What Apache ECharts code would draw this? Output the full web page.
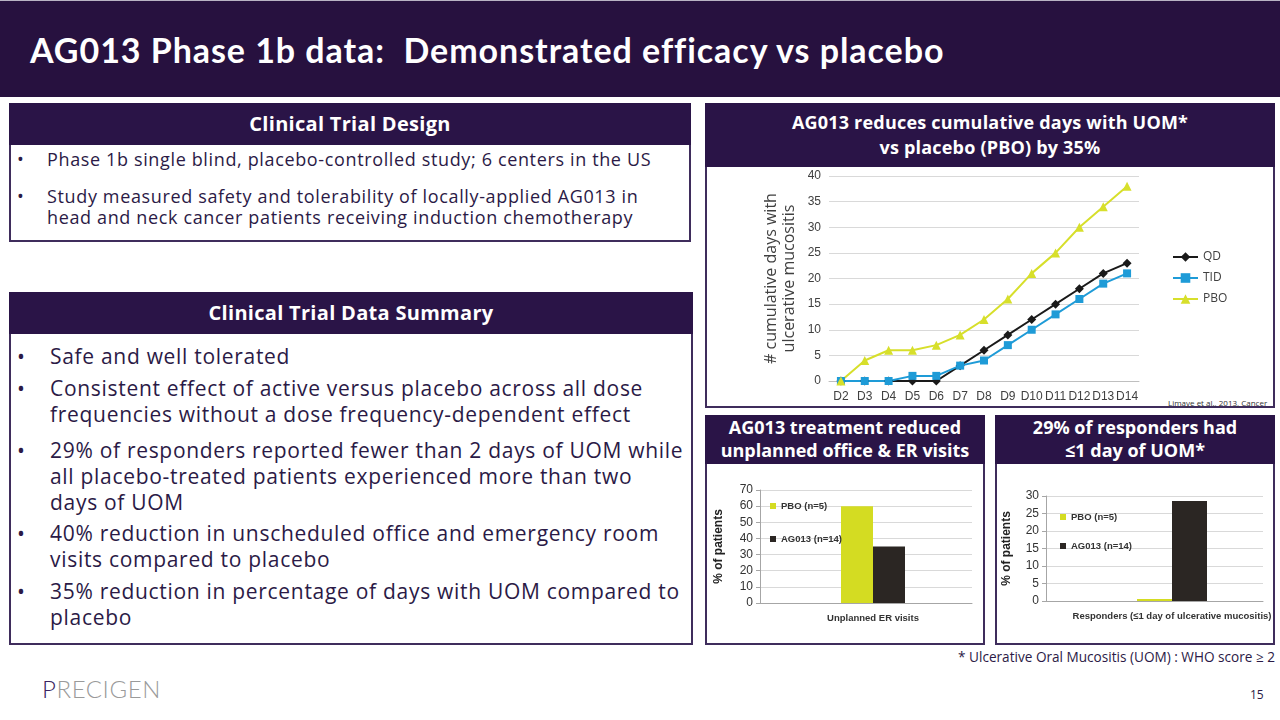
<!DOCTYPE html>
<html>
<head>
<meta charset="utf-8">
<script src="https://cdn.jsdelivr.net/npm/echarts@6/dist/echarts.min.js"></script>
<style>
  html, body { margin: 0; padding: 0; }
  body { width: 1280px; height: 720px; overflow: hidden; background: #ffffff; position: relative;
         font-family: 'Open Sans', 'DejaVu Sans', sans-serif; color: #2b1a46; }
  .abs { position: absolute; }
  .bar { background: #27113f; }
  .hdr { background: #2a1447; color: #ffffff; font-weight: bold; text-align: center; white-space: nowrap; }
  .bodybox { border: 2px solid #3f2d5c; border-top: none; box-sizing: border-box; background: #fff; }
  .ln { position: absolute; white-space: nowrap; }
  .bul { position: absolute; letter-spacing: 0; }
</style>
</head>
<body>
<div class="abs" style="left:0;top:0;width:1280px;height:1px;background:#b9b3c4"></div>
<div class="abs bar" style="left:0;top:1px;width:1280px;height:96px"></div>
<div class="abs" style="left:30px;top:27px;font-family:Lato,'Open Sans',sans-serif;font-weight:bold;font-size:34px;line-height:46px;letter-spacing:0.95px;color:#fff;white-space:pre">AG013 Phase 1b data:  Demonstrated efficacy vs placebo</div>

<!-- Box 1 -->
<div class="abs hdr" style="left:9px;top:103px;width:682px;height:42px;font-size:20px;line-height:42px;letter-spacing:0.3px">Clinical Trial Design</div>
<div class="abs bodybox" style="left:9px;top:145px;width:682px;height:97px"></div>
<div style="font-size:18px;line-height:21px;letter-spacing:0.64px">
  <span class="bul" style="left:17px;top:149px">•</span>
  <span class="ln" style="left:47px;top:149px">Phase 1b single blind, placebo-controlled study; 6 centers in the US</span>
  <span class="bul" style="left:17px;top:186px">•</span>
  <span class="ln" style="left:47px;top:186px">Study measured safety and tolerability of locally-applied AG013 in<br>head and neck cancer patients receiving induction chemotherapy</span>
</div>

<!-- Box 2 -->
<div class="abs hdr" style="left:9px;top:292px;width:684px;height:42px;font-size:20px;line-height:42px;letter-spacing:0.3px">Clinical Trial Data Summary</div>
<div class="abs bodybox" style="left:9px;top:334px;width:684px;height:311px"></div>
<div style="font-size:21px;line-height:26px;letter-spacing:0.7px">
  <span class="bul" style="left:17px;top:343px">•</span>
  <span class="ln" style="left:50px;top:343px">Safe and well tolerated</span>
  <span class="bul" style="left:17px;top:375px">•</span>
  <span class="ln" style="left:50px;top:375px">Consistent effect of active versus placebo across all dose<br>frequencies without a dose frequency-dependent effect</span>
  <span class="bul" style="left:17px;top:437px">•</span>
  <span class="ln" style="left:50px;top:437px">29% of responders reported fewer than 2 days of UOM while<br>all placebo-treated patients experienced more than two<br>days of UOM</span>
  <span class="bul" style="left:17px;top:520px">•</span>
  <span class="ln" style="left:50px;top:520px">40% reduction in unscheduled office and emergency room<br>visits compared to placebo</span>
  <span class="bul" style="left:17px;top:578px">•</span>
  <span class="ln" style="left:50px;top:578px">35% reduction in percentage of days with UOM compared to<br>placebo</span>
</div>

<!-- Right top box -->
<div class="abs hdr" style="left:705px;top:103px;width:570px;height:64px;font-size:18px;line-height:25px;letter-spacing:0.2px;padding-top:7px;box-sizing:border-box">AG013 reduces cumulative days with UOM*<br>vs placebo (PBO) by 35%</div>
<div class="abs bodybox" style="left:705px;top:167px;width:570px;height:241px"></div>
<div class="abs" style="left:1168px;top:397px;font-size:8px;line-height:12px;color:#333;white-space:nowrap">Limaye et al., 2013, Cancer</div>

<!-- Bottom boxes -->
<div class="abs hdr" style="left:705px;top:415px;width:280px;height:49px;font-size:18px;line-height:23px;padding-top:1px;box-sizing:border-box">AG013 treatment reduced<br>unplanned office &amp; ER visits</div>
<div class="abs bodybox" style="left:705px;top:464px;width:280px;height:181px"></div>
<div class="abs hdr" style="left:995px;top:415px;width:280px;height:49px;font-size:18px;line-height:23px;padding-top:1px;box-sizing:border-box">29% of responders had<br>≤1 day of UOM*</div>
<div class="abs bodybox" style="left:995px;top:464px;width:280px;height:181px"></div>

<div class="abs" style="right:5px;top:647px;font-size:13.6px;line-height:20px;white-space:nowrap">* Ulcerative Oral Mucositis (UOM) : WHO score ≥ 2</div>
<div class="abs" style="left:1250px;top:687px;font-size:12px;line-height:16px">15</div>
<div class="abs" style="left:42px;top:674px;font-family:Lato,sans-serif;font-weight:300;font-size:24px;line-height:30px;letter-spacing:0.6px;color:#9a9a9a"><span style="color:#3a2360">P</span>RECIGEN</div>

<div id="chart" class="abs" style="left:0;top:0;width:1280px;height:720px;"></div>

<script>
// ---- Data ----
const days = ['D2','D3','D4','D5','D6','D7','D8','D9','D10','D11','D12','D13','D14'];
const qdValues  = [0,0,0,0,0,3,6,9,12,15,18,21,23];
const tidValues = [0,0,0,1,1,3,4,7,10,13,16,19,21];
const pboValues = [0,4,6,6,7,9,12,16,21,25,30,34,38];

const erCategory = ['Unplanned ER visits'];
const erPbo = [60];
const erAg013 = [35];

const respCategory = ['Responders (≤1 day of ulcerative mucositis)'];
const respPbo = [0];
const respAg013 = [28.6];

const barNames = ['PBO (n=5)', 'AG013 (n=14)'];
const lineNames = ['QD', 'TID', 'PBO'];

// ---- Chart ----
const chart = echarts.init(document.getElementById('chart'), null, {renderer: 'canvas'});
const narrow = "'Liberation Sans Narrow', 'Liberation Sans', Arial, sans-serif";
const gridBase = {outerBoundsMode: 'none', containLabel: false};
const COL = {qd: '#1a1a1a', tid: '#1e9bd7', pbo: '#d7df2b', barPbo: '#d4dc22', barAg: '#2b2623'};

chart.setOption({
  backgroundColor: 'transparent',
  animation: false,
  grid: [
    Object.assign({left: 829, top: 176, width: 310, height: 205}, gridBase),
    Object.assign({left: 760, top: 490, width: 212, height: 113}, gridBase),
    Object.assign({left: 760, top: 490, width: 226, height: 113}, gridBase),
    Object.assign({left: 1046, top: 496, width: 217, height: 105}, gridBase),
    Object.assign({left: 1046, top: 496, width: 252, height: 105}, gridBase)
  ],
  xAxis: [
    {type: 'category', gridIndex: 0, data: days, boundaryGap: true,
     axisLine: {lineStyle: {color: '#bfbfbf'}}, axisTick: {show: false},
     axisLabel: {color: '#404040', fontSize: 12, margin: 10, interval: 0, fontFamily: "'Liberation Sans', Arial, sans-serif"}},
    {type: 'category', gridIndex: 1, data: [''], axisLine: {lineStyle: {color: '#a6a6a6'}},
     axisTick: {show: false}, axisLabel: {show: false}},
    {type: 'category', gridIndex: 2, data: erCategory, axisLine: {show: false}, axisTick: {show: false},
     axisLabel: {color: '#333', fontSize: 9.5, fontWeight: 'bold', fontFamily: narrow, margin: 10}},
    {type: 'category', gridIndex: 3, data: [''], axisLine: {lineStyle: {color: '#a6a6a6'}},
     axisTick: {show: false}, axisLabel: {show: false}},
    {type: 'category', gridIndex: 4, data: respCategory, axisLine: {show: false}, axisTick: {show: false},
     axisLabel: {color: '#333', fontSize: 9.5, fontWeight: 'bold', fontFamily: narrow, margin: 10}}
  ],
  yAxis: [
    {type: 'value', gridIndex: 0, min: 0, max: 40, interval: 5,
     axisLine: {show: false}, axisTick: {show: false},
     splitLine: {lineStyle: {color: '#d9d9d9'}},
     axisLabel: {color: '#404040', fontSize: 12, margin: 8, fontFamily: "'Liberation Sans', Arial, sans-serif"},
     name: '# cumulative days with\nulcerative mucositis', nameLocation: 'middle', nameGap: 31,
     nameTextStyle: {color: '#404040', fontSize: 16, lineHeight: 18, fontFamily: "'Open Sans', sans-serif"}},
    {type: 'value', gridIndex: 1, min: 0, max: 70, interval: 10,
     axisLine: {show: true, lineStyle: {color: '#a6a6a6'}}, axisTick: {show: true, length: 4, lineStyle: {color: '#a6a6a6'}},
     splitLine: {lineStyle: {color: '#d9d9d9'}},
     axisLabel: {color: '#333', fontSize: 12, margin: 7, fontFamily: narrow},
     name: '% of patients', nameLocation: 'middle', nameGap: 35,
     nameTextStyle: {color: '#222', fontSize: 12, fontWeight: 'bold', fontFamily: narrow}},
    {type: 'value', gridIndex: 2, min: 0, max: 70, show: false},
    {type: 'value', gridIndex: 3, min: 0, max: 30, interval: 5,
     axisLine: {show: true, lineStyle: {color: '#a6a6a6'}}, axisTick: {show: true, length: 4, lineStyle: {color: '#a6a6a6'}},
     splitLine: {lineStyle: {color: '#d9d9d9'}},
     axisLabel: {color: '#333', fontSize: 12, margin: 7, fontFamily: narrow},
     name: '% of patients', nameLocation: 'middle', nameGap: 33,
     nameTextStyle: {color: '#222', fontSize: 12, fontWeight: 'bold', fontFamily: narrow}},
    {type: 'value', gridIndex: 4, min: 0, max: 30, show: false}
  ],
  legend: [
    {data: lineNames, orient: 'vertical', left: 1172, top: 251, padding: 0, itemWidth: 25, itemHeight: 12, itemGap: 9,
     textStyle: {color: '#404040', fontSize: 12, fontFamily: "'Open Sans', sans-serif"}},
    {data: barNames, orient: 'vertical', left: 770, top: 500, padding: 0, icon: 'rect', itemWidth: 6, itemHeight: 6, itemGap: 21,
     textStyle: {color: '#333', fontSize: 9.5, lineHeight: 12, fontWeight: 'bold', fontFamily: narrow}},
    {data: barNames, orient: 'vertical', left: 1060, top: 511, padding: 0, icon: 'rect', itemWidth: 6, itemHeight: 6, itemGap: 17,
     textStyle: {color: '#333', fontSize: 9.5, lineHeight: 12, fontWeight: 'bold', fontFamily: narrow}}
  ],
  series: [
    {name: 'QD', type: 'line', xAxisIndex: 0, yAxisIndex: 0, data: qdValues,
     symbol: 'diamond', symbolSize: 9, color: COL.qd, lineStyle: {width: 2, color: COL.qd}, itemStyle: {color: COL.qd}},
    {name: 'TID', type: 'line', xAxisIndex: 0, yAxisIndex: 0, data: tidValues,
     symbol: 'rect', symbolSize: 8, color: COL.tid, lineStyle: {width: 2, color: COL.tid}, itemStyle: {color: COL.tid}},
    {name: 'PBO', type: 'line', xAxisIndex: 0, yAxisIndex: 0, data: pboValues,
     symbol: 'triangle', symbolSize: 9, color: COL.pbo, lineStyle: {width: 2, color: COL.pbo}, itemStyle: {color: COL.pbo}},
    {name: barNames[0], type: 'bar', xAxisIndex: 2, yAxisIndex: 2, data: erPbo, barWidth: 32, barGap: '0%',
     itemStyle: {color: COL.barPbo}},
    {name: barNames[1], type: 'bar', xAxisIndex: 2, yAxisIndex: 2, data: erAg013, barWidth: 32, barGap: '0%',
     itemStyle: {color: COL.barAg}},
    {name: barNames[0], type: 'bar', xAxisIndex: 4, yAxisIndex: 4, data: respPbo, barWidth: 35, barGap: '0%',
     barMinHeight: 2, itemStyle: {color: COL.barPbo}},
    {name: barNames[1], type: 'bar', xAxisIndex: 4, yAxisIndex: 4, data: respAg013, barWidth: 35, barGap: '0%',
     itemStyle: {color: COL.barAg}}
  ]
});
</script>
</body>
</html>
